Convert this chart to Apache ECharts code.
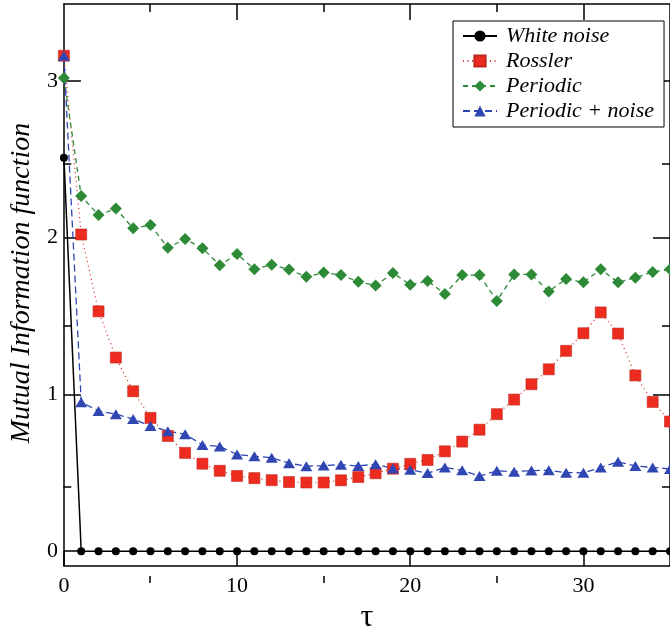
<!DOCTYPE html>
<html>
<head>
<meta charset="utf-8">
<script src="https://cdn.jsdelivr.net/npm/echarts@6/dist/echarts.min.js"></script>
<style>
  html, body { margin: 0; padding: 0; background: #fff; }
  #chart { width: 670px; height: 639px; }
</style>
</head>
<body>
<div id="chart"></div>
<script>
// Lag values (tau) and mutual information for each signal
const tau = [0, 1, 2, 3, 4, 5, 6, 7, 8, 9, 10, 11, 12, 13, 14, 15, 16, 17,
             18, 19, 20, 21, 22, 23, 24, 25, 26, 27, 28, 29, 30, 31, 32, 33, 34, 35];

const whiteNoise = [2.51, 0, 0, 0, 0, 0, 0, 0, 0, 0, 0, 0, 0, 0, 0, 0, 0, 0,
                    0, 0, 0, 0, 0, 0, 0, 0, 0, 0, 0, 0, 0, 0, 0, 0, 0, 0];

const rossler = [3.16, 2.02, 1.53, 1.235, 1.02, 0.85, 0.735, 0.627, 0.558, 0.513, 0.48, 0.466,
                 0.453, 0.441, 0.438, 0.438, 0.452, 0.473, 0.497, 0.526, 0.557, 0.582,
                 0.637, 0.699, 0.775, 0.874, 0.967, 1.065, 1.16, 1.278, 1.39, 1.523,
                 1.388, 1.121, 0.952, 0.827];

const periodic = [3.018, 2.265, 2.144, 2.185, 2.059, 2.08, 1.936, 1.991, 1.933, 1.824, 1.896, 1.798,
                  1.827, 1.796, 1.75, 1.777, 1.761, 1.719, 1.694, 1.775, 1.699, 1.724,
                  1.641, 1.761, 1.761, 1.596, 1.765, 1.765, 1.657, 1.736, 1.715, 1.798,
                  1.715, 1.744, 1.781, 1.798];

const periodicNoise = [3.16, 0.95, 0.895, 0.874, 0.843, 0.798, 0.765, 0.746, 0.678, 0.668, 0.617, 0.606,
                       0.596, 0.561, 0.542, 0.546, 0.552, 0.544, 0.555, 0.528, 0.519, 0.498,
                       0.534, 0.516, 0.479, 0.513, 0.507, 0.514, 0.516, 0.501, 0.5, 0.534,
                       0.57, 0.544, 0.534, 0.525];

const seriesNames = ['White noise', 'Rossler', 'Periodic', 'Periodic + noise'];

// Tick positions
const xMajorTicks = [0, 10, 20, 30];
const xMinorTicks = [5, 15, 25];
const yMajorTicks = [0, 1, 2, 3];
const yMinorTicks = [0.5, 1.5, 2.5];

const SERIF = '"Liberation Serif", "DejaVu Serif", serif';
const pairs = (vals) => vals.map((v, i) => [tau[i], v]);

const X_MIN = 0, X_MAX = 35, Y_MIN = -0.095, Y_MAX = 3.49;
const gridBox = { left: 63.3, top: 4, width: 607, height: 579 };

function frameAxis(extra) {
  return Object.assign({
    type: 'value',
    splitLine: { show: false },
    axisLine: { show: true, onZero: false, lineStyle: { color: '#000', width: 1.5 } },
    axisLabel: { show: false },
  }, extra);
}

const chart = echarts.init(document.getElementById('chart'), null, { renderer: 'canvas' });

chart.setOption({
  animation: false,
  backgroundColor: '#fff',
  grid: [Object.assign({}, gridBox), Object.assign({}, gridBox)],
  xAxis: [
    frameAxis({
      gridIndex: 0, position: 'bottom', min: X_MIN, max: X_MAX,
      axisTick: { inside: true, length: 15, customValues: xMajorTicks, lineStyle: { color: '#000', width: 1.5 } },
      axisLabel: { show: true, customValues: xMajorTicks, margin: 9, fontFamily: SERIF, fontSize: 22, color: '#000' },
      name: 'τ', nameLocation: 'middle', nameGap: 22,
      nameTextStyle: { fontFamily: SERIF, fontSize: 32, color: '#000' }
    }),
    frameAxis({
      gridIndex: 0, position: 'top', min: X_MIN, max: X_MAX,
      axisTick: { inside: true, length: 16, customValues: [10, 20, 30], lineStyle: { color: '#000', width: 1.5 } }
    }),
    frameAxis({
      gridIndex: 1, position: 'bottom', min: X_MIN, max: X_MAX,
      axisLine: { show: false, onZero: false },
      axisTick: { inside: true, length: 7, customValues: xMinorTicks, lineStyle: { color: '#000', width: 1.5 } }
    }),
    frameAxis({
      gridIndex: 1, position: 'top', min: X_MIN, max: X_MAX,
      axisLine: { show: false, onZero: false },
      axisTick: { inside: true, length: 8, customValues: xMinorTicks, lineStyle: { color: '#000', width: 1.5 } }
    })
  ],
  yAxis: [
    frameAxis({
      gridIndex: 0, position: 'left', min: Y_MIN, max: Y_MAX,
      axisTick: { inside: true, length: 17, customValues: yMajorTicks, lineStyle: { color: '#000', width: 1.5 } },
      axisLabel: { show: true, customValues: yMajorTicks, margin: 6, fontFamily: SERIF, fontSize: 22, color: '#000' },
      name: 'Mutual Information function', nameLocation: 'middle', nameGap: 22, nameRotate: 90,
      nameTextStyle: { fontFamily: SERIF, fontStyle: 'italic', fontSize: 28, color: '#000', padding: [0, 0, 0, 4] }
    }),
    frameAxis({
      gridIndex: 0, position: 'right', min: Y_MIN, max: Y_MAX,
      axisTick: { inside: true, length: 17, customValues: yMajorTicks, lineStyle: { color: '#000', width: 1.5 } }
    }),
    frameAxis({
      gridIndex: 1, position: 'left', min: Y_MIN, max: Y_MAX,
      axisLine: { show: false, onZero: false },
      axisTick: { inside: true, length: 8, customValues: yMinorTicks, lineStyle: { color: '#000', width: 1.5 } }
    }),
    frameAxis({
      gridIndex: 1, position: 'right', min: Y_MIN, max: Y_MAX,
      axisLine: { show: false, onZero: false },
      axisTick: { inside: true, length: 8, customValues: yMinorTicks, lineStyle: { color: '#000', width: 1.5 } }
    })
  ],
  legend: {
    data: seriesNames,
    orient: 'vertical',
    left: 453, top: 21,
    padding: [4, 10, 5, 9],
    itemGap: 3,
    itemWidth: 34, itemHeight: 14,
    borderColor: '#000', borderWidth: 1,
    backgroundColor: '#fff',
    textStyle: { fontFamily: SERIF, fontStyle: 'italic', fontSize: 22, color: '#000', padding: [0, 0, 0, 4] }
  },
  series: [
    {
      name: seriesNames[0], type: 'line', xAxisIndex: 0, yAxisIndex: 0,
      data: pairs(whiteNoise),
      symbol: 'circle', symbolSize: 8,
      itemStyle: { color: '#000' },
      lineStyle: { color: '#000', width: 1.5 }
    },
    {
      name: seriesNames[1], type: 'line', xAxisIndex: 0, yAxisIndex: 0,
      data: pairs(rossler),
      symbol: 'rect', symbolSize: 11,
      itemStyle: { color: '#ee2b1f', borderColor: '#c0261c', borderWidth: 0.6 },
      lineStyle: { color: '#d8332a', width: 1.3, type: [1, 3.5] }
    },
    {
      name: seriesNames[2], type: 'line', xAxisIndex: 0, yAxisIndex: 0,
      data: pairs(periodic),
      symbol: 'diamond', symbolSize: 12,
      itemStyle: { color: '#2d8a36' },
      lineStyle: { color: '#2d8a36', width: 1.3, type: [5, 4] }
    },
    {
      name: seriesNames[3], type: 'line', xAxisIndex: 0, yAxisIndex: 0,
      data: pairs(periodicNoise),
      symbol: 'triangle', symbolSize: [12, 10],
      itemStyle: { color: '#3046b2' },
      lineStyle: { color: '#3046b2', width: 1.3, type: [7, 4] }
    }
  ]
});
</script>
</body>
</html>
